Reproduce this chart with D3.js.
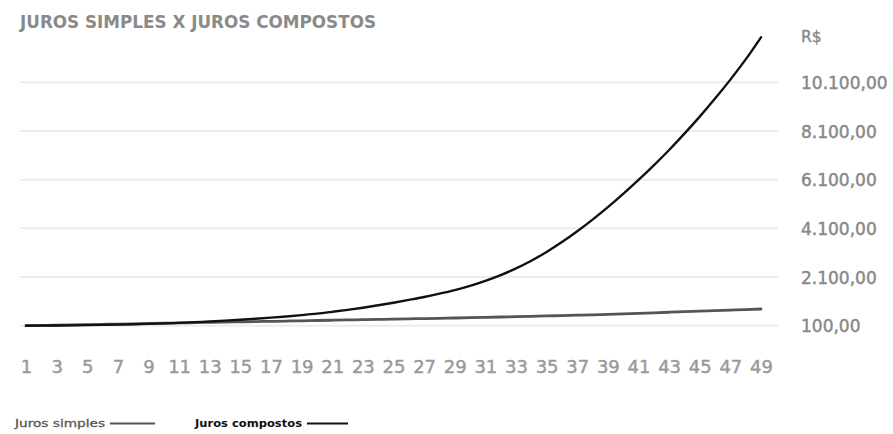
<!DOCTYPE html>
<html>
<head>
<meta charset="utf-8">
<script src="https://cdn.jsdelivr.net/npm/d3@7"></script>
<style>
  html, body { margin: 0; padding: 0; background: #fff; }
  svg { display: block; }
  text { font-family: "DejaVu Sans", sans-serif; }
</style>
</head>
<body>
<svg id="chart" width="893" height="434"></svg>
<script>
const title = "JUROS SIMPLES X JUROS COMPOSTOS";
const unitLabel = "R$";
const periods = d3.range(1, 50);
const simpleValues = [100,111,122,134,145,156,167,178,190,201,212,223,234,246,257,268,280,291,302,314,325,336,348,359,370,382,393,405,416,428,442,457,472,487,502,516,531,546,565,587,609,631,653,675,697,719,741,763,786];
const compoundValues = [100,103,108,114,122,132,144,158,175,195,218,245,275,308,345,385,430,480,535,595,670,750,840,940,1045,1160,1280,1415,1565,1740,1945,2180,2455,2770,3130,3535,3980,4460,4970,5515,6090,6690,7320,7990,8690,9430,10210,11040,11950];
const yTicks = [100, 2100, 4100, 6100, 8100, 10100];
const xTicks = d3.range(1, 50, 2);
const seriesNames = ["Juros simples", "Juros compostos"];

const svg = d3.select("#chart");
const x = d3.scaleLinear().domain([1, 49]).range([26, 761]);
const y = d3.scaleLinear().domain([100, 10100]).range([325.7, 82.3]);

const br = d3.formatLocale({decimal: ",", thousands: ".", grouping: [3], currency: ["R$", ""]});
const fmt = br.format(",.2f");

// title
svg.append("text").attr("x", 20).attr("y", 28)
  .attr("fill", "#8a8a8a").attr("font-size", 17.5).attr("font-weight", 700)
  .attr("textLength", 356).attr("lengthAdjust", "spacingAndGlyphs")
  .text(title);

// gridlines
svg.append("g").selectAll("line").data(yTicks).join("line")
  .attr("x1", 20).attr("x2", 778)
  .attr("y1", d => y(d)).attr("y2", d => y(d))
  .attr("stroke", "#ececec").attr("stroke-width", 2);

// y axis (right)
const yAxis = d3.axisRight(y).tickValues(yTicks).tickFormat(fmt).tickSize(0).tickPadding(0);
const gy = svg.append("g").attr("transform", "translate(801,0)").call(yAxis);
gy.select(".domain").remove();
gy.selectAll("text").attr("fill", "#888").attr("stroke", "#888").attr("stroke-width", 0.45)
  .attr("font-size", 17).attr("font-family", "'DejaVu Sans', sans-serif").attr("dy", "0.36em");

svg.append("text").attr("x", 801).attr("y", 41.5)
  .attr("fill", "#888").attr("stroke", "#888").attr("stroke-width", 0.4).attr("font-size", 15.5)
  .text(unitLabel);

// x axis
const xAxis = d3.axisBottom(x).tickValues(xTicks).tickFormat(d3.format("d")).tickSize(0).tickPadding(0);
const gx = svg.append("g").attr("transform", "translate(0,372.5)").call(xAxis);
gx.select(".domain").remove();
gx.selectAll("text").attr("fill", "#999").attr("stroke", "#999").attr("stroke-width", 0.45)
  .attr("font-size", 18).attr("font-family", "'DejaVu Sans', sans-serif").attr("dy", "0");

// lines
const line = d3.line().x((d, i) => x(periods[i])).y(d => y(d)).curve(d3.curveMonotoneX);
svg.append("path").datum(simpleValues).attr("d", line)
  .attr("fill", "none").attr("stroke", "#555").attr("stroke-width", 2.8).attr("stroke-linecap", "round");
svg.append("path").datum(compoundValues).attr("d", line)
  .attr("fill", "none").attr("stroke", "#111").attr("stroke-width", 2.4).attr("stroke-linecap", "round");

// legend
const lg = svg.append("g");
lg.append("text").attr("x", 15).attr("y", 427).attr("fill", "#555").attr("stroke", "#555").attr("stroke-width", 0.3)
  .attr("font-size", 11).attr("textLength", 90).attr("lengthAdjust", "spacingAndGlyphs").text(seriesNames[0]);
lg.append("line").attr("x1", 110).attr("x2", 155).attr("y1", 423.5).attr("y2", 423.5)
  .attr("stroke", "#555").attr("stroke-width", 1.8);
lg.append("text").attr("x", 195).attr("y", 427).attr("fill", "#111")
  .attr("font-size", 11).attr("font-weight", 700).attr("textLength", 107).attr("lengthAdjust", "spacingAndGlyphs").text(seriesNames[1]);
lg.append("line").attr("x1", 307).attr("x2", 348).attr("y1", 423.5).attr("y2", 423.5)
  .attr("stroke", "#111").attr("stroke-width", 2.2);
</script>
</body>
</html>
